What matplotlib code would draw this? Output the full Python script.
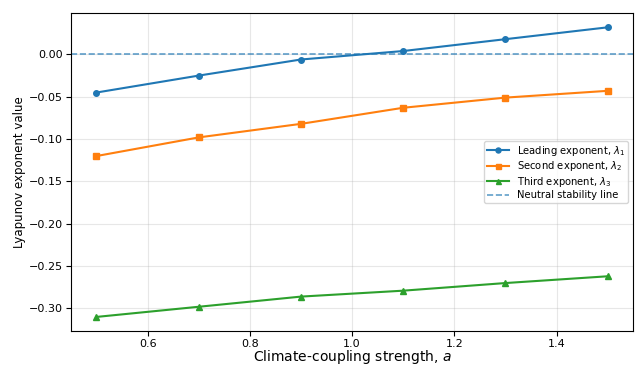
import matplotlib
matplotlib.use("Agg")
import matplotlib.pyplot as plt

a_vals = [0.5, 0.7, 0.9, 1.1, 1.3, 1.5]
lam1 = [-0.045, -0.025, -0.006, 0.004, 0.018, 0.032]
lam2 = [-0.120, -0.098, -0.082, -0.063, -0.051, -0.043]
lam3 = [-0.310, -0.298, -0.286, -0.279, -0.270, -0.262]

fig = plt.figure(figsize=(6.39, 3.67), dpi=100)
ax = fig.add_axes([0.111, 0.097, 0.880, 0.868])

ax.plot(a_vals, lam1, marker='o', markersize=4, color='C0', linewidth=1.5,
        label=r'Leading exponent, $\lambda_1$')
ax.plot(a_vals, lam2, marker='s', markersize=4, color='C1', linewidth=1.5,
        label=r'Second exponent, $\lambda_2$')
ax.plot(a_vals, lam3, marker='^', markersize=4, color='C2', linewidth=1.5,
        label=r'Third exponent, $\lambda_3$')
ax.axhline(0, linestyle='--', color='C0', alpha=0.7, linewidth=1.2,
           label='Neutral stability line')

ax.grid(True, alpha=0.3)
ax.tick_params(labelsize=8, pad=2)
ax.set_xlabel(r'Climate-coupling strength, $a$', fontsize=10, labelpad=-1)
ax.set_ylabel('Lyapunov exponent value', fontsize=8.5, labelpad=2)
ax.legend(loc='center right', fontsize=7.2, labelspacing=0.15,
          borderpad=0.3, handlelength=2.2, markerscale=0.9)

fig.savefig('out.png', dpi=100)
